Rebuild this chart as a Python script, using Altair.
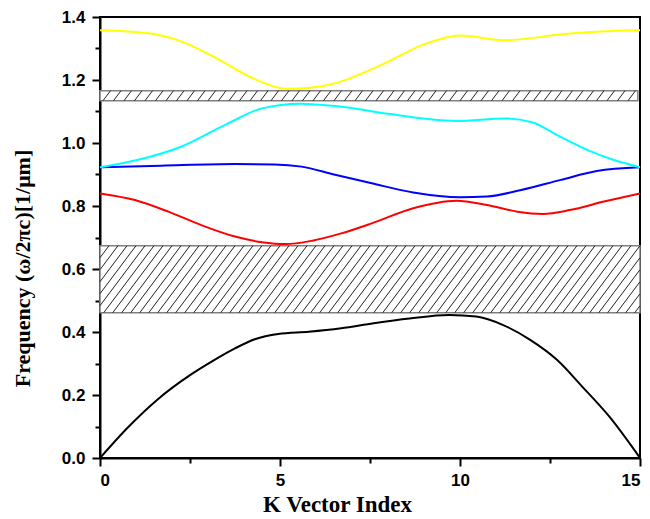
import altair as alt
import pandas as pd
import numpy as np

# ---- data ----
black_x = [0, 0.8, 1.6, 2.5, 3.1, 3.75, 4.3, 4.95, 5.8, 6.7, 7.6, 8.6, 9.7, 10.45, 11.2, 11.95, 12.7, 13.4, 14.15, 15]
black_y = [0.0, 0.100, 0.186, 0.263, 0.306, 0.348, 0.377, 0.394, 0.401, 0.412, 0.428, 0.443, 0.454, 0.449, 0.422, 0.375, 0.311, 0.226, 0.131, 0.0]

red_x = [0, 0.97, 1.9, 2.8, 3.75, 4.5, 5.15, 5.9, 6.7, 7.55, 8.7, 9.9, 10.75, 11.6, 12.3, 13.05, 14, 15]
red_y = [0.840, 0.819, 0.782, 0.740, 0.703, 0.685, 0.679, 0.690, 0.713, 0.745, 0.793, 0.817, 0.803, 0.782, 0.775, 0.787, 0.814, 0.840]

blue_x = [0, 1.7, 3.75, 4.85, 5.6, 6.5, 7.55, 8.7, 10, 10.75, 11.7, 12.8, 13.8, 15]
blue_y = [0.923, 0.928, 0.933, 0.932, 0.925, 0.900, 0.872, 0.843, 0.828, 0.830, 0.851, 0.883, 0.911, 0.923]

cyan_x = [0, 1.0, 2.27, 3.5, 4.5, 5.55, 6.6, 8.05, 9.9, 11.25, 12.0, 12.7, 13.6, 14.3, 15]
cyan_y = [0.923, 0.945, 0.989, 1.059, 1.110, 1.125, 1.117, 1.092, 1.070, 1.078, 1.066, 1.025, 0.975, 0.945, 0.923]

yellow_x = [0, 1.3, 2.27, 3.24, 4.2, 5.25, 6.4, 7.8, 9.0, 10.0, 11.25, 12.9, 13.9, 15]
yellow_y = [1.358, 1.349, 1.322, 1.269, 1.208, 1.172, 1.186, 1.247, 1.313, 1.341, 1.326, 1.346, 1.354, 1.358]

series_names = ["band1", "band2", "band3", "band4", "band5"]
series_colors = ["#000000", "#ff0000", "#0000ff", "#00ffff", "#ffff00"]

gap_lo = [0.461, 1.134]
gap_hi = [0.674, 1.166]
gap_x0 = [0.0, 0.0]
gap_x1 = [15.0, 14.94]

# ---- build tables ----
W, H = 540, 441
X_MAX, Y_MAX = 15.0, 1.4

rows = []
for name, xs_, ys_ in zip(series_names,
                          [black_x, red_x, blue_x, cyan_x, yellow_x],
                          [black_y, red_y, blue_y, cyan_y, yellow_y]):
    for i, (a, b) in enumerate(zip(xs_, ys_)):
        rows.append({"series": name, "k": a, "f": b, "i": i})
lines_df = pd.DataFrame(rows)

gaps_df = pd.DataFrame({"x0": gap_x0, "x1": gap_x1, "y0": gap_lo, "y1": gap_hi})

# hatch segments (decoration of the gap rectangles)
px_x = W / X_MAX
px_y = H / Y_MAX
hatch = []
for x0, x1, y0, y1, step in zip(gap_x0, gap_x1, gap_lo, gap_hi, [9.0, 10.5]):
    hpx = (y1 - y0) * px_y
    dx = hpx * 0.75
    xa, xb = x0 * px_x, x1 * px_x
    c = xa - dx
    while c < xb:
        t_lo = max(0.0, (xa - c) / dx)
        t_hi = min(1.0, (xb - c) / dx)
        if t_hi > t_lo:
            hatch.append({
                "hx": (c + t_lo * dx) / px_x, "hx2": (c + t_hi * dx) / px_x,
                "hy": y0 + t_lo * (y1 - y0), "hy2": y0 + t_hi * (y1 - y0)})
        c += step
hatch_df = pd.DataFrame(hatch)

# ---- axes ----
x_vals = [0, 2.5, 5, 7.5, 10, 12.5, 15]
y_vals = [round(i * 0.1, 1) for i in range(15)]

common = dict(grid=False, domainColor="black", domainWidth=2, tickColor="black",
              tickWidth=2, labelColor="black", labelFont="Liberation Sans",
              labelFontWeight="bold", titleFont="Liberation Serif", titleFontWeight="bold",
              titleColor="black")

x_axis = alt.Axis(values=x_vals,
                  labelExpr="datum.value % 5 === 0 ? datum.label : ''",
                  tickSize={"condition": {"test": "datum.value % 5 === 0", "value": 8}, "value": 5},
                  labelFontSize=17, labelPadding=6,
                  title="K Vector Index", titleFontSize=23,
                  titleX=237, titleY=53, titleBaseline="alphabetic",
                  **common)
y_axis = alt.Axis(values=y_vals,
                  labelExpr="round(datum.value * 10) % 2 === 0 ? format(datum.value, '.1f') : ''",
                  tickSize={"condition": {"test": "round(datum.value * 10) % 2 === 0", "value": 8}, "value": 5},
                  labelFontSize=17, labelPadding=7,
                  title="Frequency (ω/2πc)[1/μm]", titleFontSize=22,
                  titleX=-78, titleY=251, titleBaseline="middle", titleAngle=-90,
                  **common)

xs = alt.Scale(domain=[0, X_MAX], nice=False, zero=False)
ys = alt.Scale(domain=[0, Y_MAX], nice=False, zero=False)

gaps = alt.Chart(gaps_df).mark_rect(fill="white", stroke="#808080", strokeWidth=1.5).encode(
    x=alt.X("x0:Q", scale=xs, axis=x_axis), x2="x1:Q",
    y=alt.Y("y0:Q", scale=ys, axis=y_axis), y2="y1:Q")

hatch_layer = alt.Chart(hatch_df).mark_rule(color="#222222", strokeWidth=1).encode(
    x=alt.X("hx:Q", scale=xs, axis=x_axis), x2="hx2:Q",
    y=alt.Y("hy:Q", scale=ys, axis=y_axis), y2="hy2:Q")

curves = alt.Chart(lines_df).mark_line(strokeWidth=2, interpolate="monotone", clip=True).encode(
    x=alt.X("k:Q", scale=xs, axis=x_axis),
    y=alt.Y("f:Q", scale=ys, axis=y_axis),
    color=alt.Color("series:N", scale=alt.Scale(domain=series_names, range=series_colors), legend=None),
    order="i:Q")

chart = alt.layer(gaps, hatch_layer, curves).properties(
    width=W, height=H,
    autosize=alt.AutoSizeParams(type="none"),
    padding={"left": 92, "top": 9, "right": 2, "bottom": 60},
    background="white",
).configure_view(stroke="black", strokeWidth=2)

chart.save("out.html", embed_options={"renderer": "svg", "actions": False})
